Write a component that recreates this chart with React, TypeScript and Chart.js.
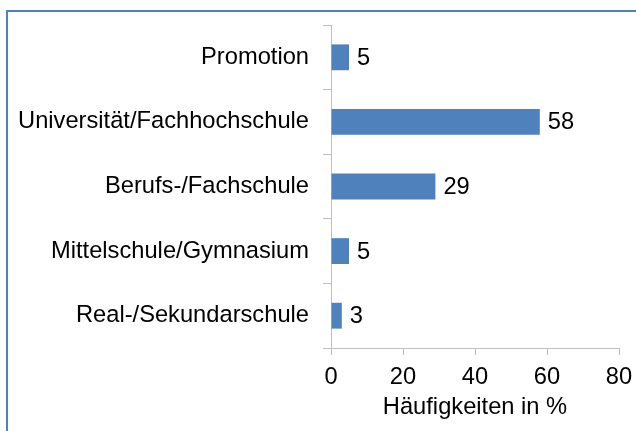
import React, { useEffect, useRef } from "react";
import { Chart, registerables } from "chart.js";

Chart.register(...registerables);

const categories = [
  "Promotion",
  "Universität/Fachhochschule",
  "Berufs-/Fachschule",
  "Mittelschule/Gymnasium",
  "Real-/Sekundarschule",
];
const values = [5, 58, 29, 5, 3];
const xMin = 0;
const xMax = 80;
const xStep = 20;
const xTitle = "Häufigkeiten in %";

const FONT = "'Liberation Sans', Arial, sans-serif";
const FONT_SIZE = 23.7;
const AXIS_GREY = "#bfbfbf";
const BAR_BLUE = "#4f81bd";

const framePlugin = {
  id: "frame",
  beforeDraw(chart: any) {
    const ctx = chart.ctx;
    ctx.save();
    ctx.fillStyle = "#ffffff";
    ctx.fillRect(0, 0, chart.width, chart.height);
    ctx.strokeStyle = "#4f81bd";
    ctx.lineWidth = 2;
    ctx.strokeRect(7, 11, 800, 600);
    ctx.restore();
  },
};

const valueLabelPlugin = {
  id: "valueLabels",
  afterDatasetsDraw(chart: any) {
    const ctx = chart.ctx;
    const meta = chart.getDatasetMeta(0);
    ctx.save();
    ctx.font = `${FONT_SIZE}px ${FONT}`;
    ctx.fillStyle = "#000000";
    ctx.textAlign = "left";
    ctx.textBaseline = "middle";
    meta.data.forEach((bar: any, i: number) => {
      ctx.fillText(String(chart.data.datasets[0].data[i]), bar.x + 8, bar.y + 1);
    });
    ctx.restore();
  },
};

export default function App() {
  const canvasRef = useRef<HTMLCanvasElement | null>(null);

  useEffect(() => {
    if (!canvasRef.current) return;
    const chart = new Chart(canvasRef.current, {
      type: "bar",
      data: {
        labels: categories,
        datasets: [
          {
            data: values,
            backgroundColor: BAR_BLUE,
            borderWidth: 0,
            categoryPercentage: 1,
            barPercentage: 0.4,
          },
        ],
      },
      options: {
        indexAxis: "y",
        responsive: false,
        animation: false,
        devicePixelRatio: 1,
        layout: { padding: { left: 0, top: 25, right: 17, bottom: 0 } },
        plugins: {
          legend: { display: false },
          tooltip: { enabled: false },
          title: { display: false },
        },
        scales: {
          y: {
            type: "category",
            grid: {
              display: true,
              drawOnChartArea: false,
              drawTicks: true,
              tickLength: 8,
              color: AXIS_GREY,
              offset: true,
            },
            border: { display: true, color: AXIS_GREY, width: 1 },
            ticks: {
              padding: 14,
              color: "#000000",
              font: { family: FONT, size: FONT_SIZE },
            },
            afterFit(scale: any) {
              scale.width = 331;
              scale.paddingTop = 0;
              scale.paddingBottom = 0;
            },
          },
          x: {
            type: "linear",
            min: xMin,
            max: xMax,
            grid: {
              display: true,
              drawOnChartArea: false,
              drawTicks: true,
              tickLength: 7,
              color: AXIS_GREY,
            },
            border: { display: true, color: AXIS_GREY, width: 1 },
            ticks: {
              stepSize: xStep,
              padding: 8,
              color: "#000000",
              font: { family: FONT, size: FONT_SIZE },
              maxRotation: 0,
            },
            title: {
              display: true,
              text: xTitle,
              color: "#000000",
              font: { family: FONT, size: FONT_SIZE },
              padding: { top: 0, bottom: 9 },
            },
            afterFit(scale: any) {
              scale.height = 83;
              scale.paddingLeft = 0;
              scale.paddingRight = 0;
            },
          },
        },
      },
      plugins: [framePlugin, valueLabelPlugin],
    });
    return () => chart.destroy();
  }, []);

  return (
    <div style={{ position: "absolute", left: 0, top: 0, width: 636, height: 431, overflow: "hidden" }}>
      <canvas ref={canvasRef} width={636} height={431} style={{ display: "block" }} />
    </div>
  );
}
